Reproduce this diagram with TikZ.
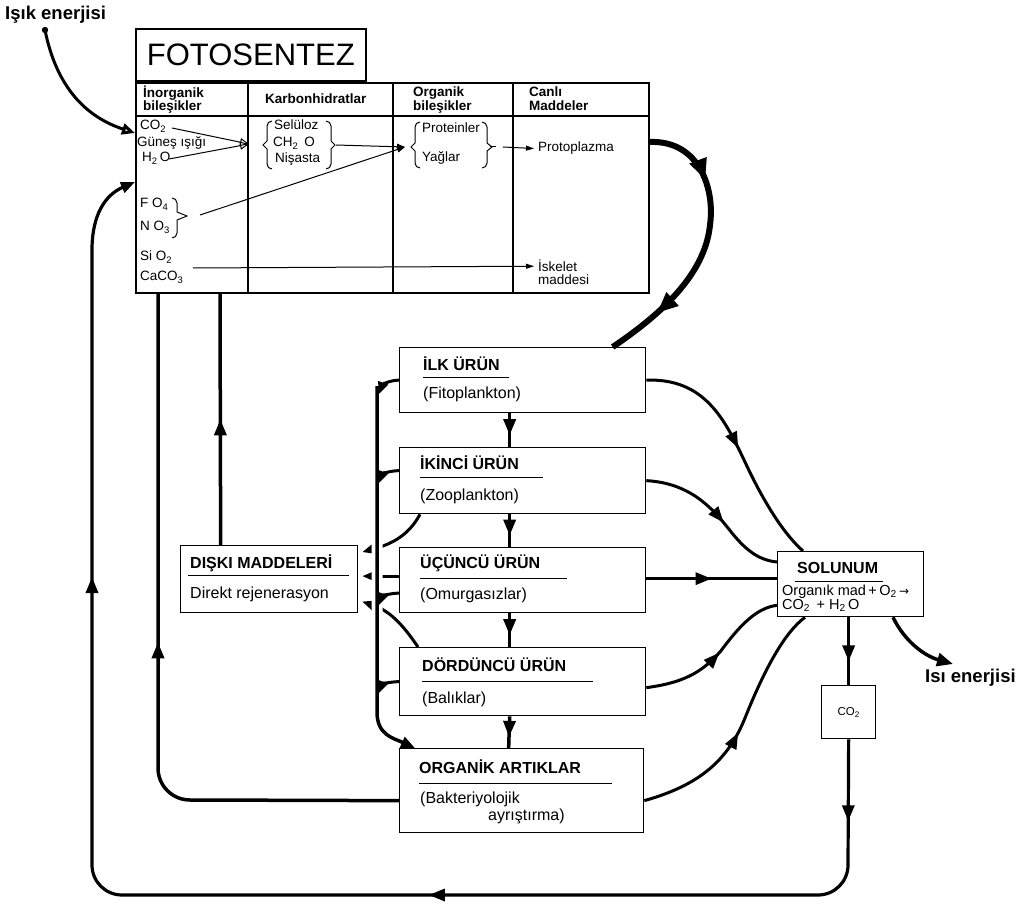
\documentclass[tikz,border=0pt]{standalone}
\usepackage{fontspec}
\setmainfont{Liberation Sans}
\newfontfamily\dejavu{DejaVu Sans}
\usetikzlibrary{arrows.meta,decorations.markings,calc}
\begin{document}
\begin{tikzpicture}[x=1pt,y=-1pt,
  box/.style={draw,line width=1.3pt,inner sep=0pt,anchor=north west},
  tline/.style={line width=1.1pt},
  lbl/.style={anchor=base west,inner sep=0pt},
  ttl/.style={lbl,font=\fontsize{16}{18}\selectfont\bfseries},
  sub/.style={lbl,font=\fontsize{16}{18}\selectfont},
  hdr/.style={lbl,font=\fontsize{13.5}{15}\selectfont\bfseries},
  cell/.style={lbl,font=\fontsize{13.5}{15}\selectfont},
  big/.style={lbl,font=\fontsize{18.5}{20}\selectfont\bfseries},
  conn/.style={line width=3pt},
  thin/.style={line width=1pt},
  uline/.style={line width=1pt},
  endtip/.style={-{Triangle[length=14pt,width=11pt]}},
  smalltip/.style={-{Triangle[length=12pt,width=10pt]}},
  arrowat/.style={postaction={decorate,decoration={markings,mark=at position #1 with {\arrow{Triangle[length=16pt,width=12pt]}}}}},
  bigarrowat/.style={postaction={decorate,decoration={markings,mark=at position #1 with {\arrow{Triangle[length=21pt,width=17pt]}}}}},
]
\useasboundingbox (0,0) rectangle (1025,909);

% ---------- FOTOSENTEZ table ----------
\node[box,line width=1.6pt,minimum width=513pt,minimum height=210pt] (table) at (135,82) {};
\node[draw,line width=1.6pt,inner sep=0pt,anchor=south west,minimum width=230pt,minimum height=52pt,
      font=\fontsize{31}{33}\selectfont] (title) at (135,82) {FOTOSENTEZ};
\draw[tline] (135,116) -- (648,116);
\draw[tline] (248,82) -- (248,292);
\draw[tline] (393,82) -- (393,292);
\draw[tline] (513,82) -- (513,292);

\node[hdr] (h1a) at (143,98) {İnorganik};
\node[hdr] (h1b) at (143,111) {bileşikler};
\node[hdr] (h2) at (265,104) {Karbonhidratlar};
\node[hdr] (h3a) at (413,97) {Organik};
\node[hdr] (h3b) at (413,111) {bileşikler};
\node[hdr] (h4a) at (529,97) {Canlı};
\node[hdr] (h4b) at (529,111) {Maddeler};

\node[cell] (co2) at (140,130) {CO\textsubscript{2}};
\node[cell] (gunes) at (137,147) {Güneş ışığı};
\node[cell] (h2o) at (142,162) {H\textsubscript{2}\,O};
\node[cell] (fo4) at (140,208) {F O\textsubscript{4}};
\node[cell] (no3) at (140,231) {N O\textsubscript{3}};
\node[cell] (sio2) at (140,261) {Si O\textsubscript{2}};
\node[cell] (caco3) at (140,281) {CaCO\textsubscript{3}};

\node[cell] (selu) at (274,130) {Selüloz};
\node[cell] (ch2o) at (273,147) {CH\textsubscript{2}\, O};
\node[cell] (nisasta) at (275,163) {Nişasta};

\node[cell] (prot) at (422,133) {Proteinler};
\node[cell] (yag) at (422,162) {Yağlar};

\node[cell] (proto) at (538,152) {Protoplazma};
\node[cell] (iskelet) at (538,272) {İskelet};
\node[cell] (maddesi) at (538,285) {maddesi};

% braces
\draw[thin] (272,121) to[out=180,in=90] (267,126) -- (267,141) -- (263,145) -- (267,149) -- (267,164) to[out=-90,in=180] (272,169);
\draw[thin] (326,121) to[out=0,in=90] (331,126) -- (331,141) -- (335,145) -- (331,149) -- (331,164) to[out=-90,in=0] (326,169);
\draw[thin] (420,122) to[out=180,in=90] (415,127) -- (415,143) -- (411,147) -- (415,151) -- (415,163) to[out=-90,in=180] (420,168);
\draw[thin] (482,122) to[out=0,in=90] (487,127) -- (487,143) -- (492,147) -- (487,151) -- (487,163) to[out=-90,in=0] (482,168);
\draw[thin] (172,198) to[out=0,in=90] (177,203) -- (177,212) -- (187,216) -- (177,220) -- (177,233) to[out=-90,in=0] (172,238);

\coordinate (karbin) at (249,144);
\coordinate (orgin) at (405,147);
\draw[thin,-{Triangle[open,length=9pt,width=8pt]}] (172,128) -- (karbin);
\draw[thin,-{Triangle[open,length=9pt,width=8pt]}] (169,159) -- (karbin);
\draw[thin,-{Triangle[length=8pt,width=6pt]}] (336,145) -- (orgin);
\draw[thin,-{Triangle[length=8pt,width=6pt]}] (200,215) -- (orgin);
\draw[thin] (490,147) -- (496,147);
\draw[thin,-{Triangle[length=8pt,width=5pt]}] (503,147) -- ([xshift=-4pt]proto.west);
\draw[thin,-{Triangle[length=8pt,width=5pt]}] (193,268) -- ([xshift=-4pt]iskelet.west);

% ---------- Işık enerjisi ----------
\node[big] (isik) at (5,20) {Işık enerjisi};
\coordinate (isikdot) at (45,30);
\fill (isikdot) circle (3.2);
\draw[conn,-{Triangle[open,length=13pt,width=11pt]}] (isikdot) .. controls (55,80) and (80,115) .. ([yshift=-51pt]table.north west);

% ---------- trophic boxes ----------
\node[box,minimum width=246pt,minimum height=65pt] (ilk) at (399,347) {};
\node[box,minimum width=246pt,minimum height=66pt] (ikinci) at (399,447) {};
\node[box,minimum width=246pt,minimum height=65pt] (ucuncu) at (399,547) {};
\node[box,minimum width=246pt,minimum height=68pt] (dorduncu) at (399,647) {};
\node[box,minimum width=244pt,minimum height=84pt] (organik) at (399,748) {};
\node[box,minimum width=177pt,minimum height=67pt] (diski) at (180,545) {};
\node[box,minimum width=146pt,minimum height=65pt] (solunum) at (777,551) {};
\node[box,minimum width=54pt,minimum height=53pt] (co2box) at (821,685) {};

\node[ttl] (ilkT) at (423,370) {İLK ÜRÜN};
\draw[uline] (423,377) -- (509,377);
\node[sub] (ilkS) at (423,398) {(Fitoplankton)};

\node[ttl] (ikiT) at (420,469) {İKİNCİ ÜRÜN};
\draw[uline] (420,477) -- (543,477);
\node[sub] (ikiS) at (420,500) {(Zooplankton)};

\node[ttl] (ucT) at (420,568) {ÜÇÜNCÜ ÜRÜN};
\draw[uline] (420,578) -- (567,578);
\node[sub] (ucS) at (420,599) {(Omurgasızlar)};

\node[ttl] (dorT) at (422,671) {DÖRDÜNCÜ ÜRÜN};
\draw[uline] (422,681) -- (593,681);
\node[sub] (dorS) at (422,703) {(Balıklar)};

\node[ttl] (orgT) at (419,773) {ORGANİK ARTIKLAR};
\draw[uline] (419,783) -- (612,783);
\node[sub] (orgS1) at (420,803) {(Bakteriyolojik};
\node[sub] (orgS2) at (488,820) {ayrıştırma)};

\node[ttl] (disT) at (190,568) {DIŞKI MADDELERİ};
\draw[uline] (188,575) -- (349,575);
\node[sub] (disS) at (190,598) {Direkt rejenerasyon};

\node[ttl] (solT) at (797,573) {SOLUNUM};
\draw[uline] (795,581) -- (883,581);
\node[lbl,font=\fontsize{14.5}{16}\selectfont] (solA) at (782,595) {Organık mad\,+\,O\textsubscript{2}\,{\dejavu\fontsize{12}{13}\selectfont →}};
\node[lbl,font=\fontsize{14.5}{16}\selectfont] (solB) at (782,609) {CO\textsubscript{2}\, + H\textsubscript{2}\,O};

\node[lbl,font=\fontsize{11.5}{12}\selectfont,anchor=center] (co2t) at (co2box.center) {CO\textsubscript{2}};

\node[big] (isi) at (925,682) {Isı enerjisi};

% ---------- connectors ----------
% table -> ILK (thick)
\draw[line width=6pt,bigarrowat=0.26,bigarrowat=0.8] ([yshift=-60pt]table.north east) .. controls (700,140) and (715,190) .. (710,225) .. controls (705,275) and (660,315) .. ([xshift=90pt]ilk.north);

% trophic chain
\draw[conn,line width=3.5pt,arrowat=0.65] ([xshift=-13pt]ilk.south) -- ([xshift=-13pt]ikinci.north);
\draw[conn,line width=3.5pt,arrowat=0.65] ([xshift=-13pt]ikinci.south) -- ([xshift=-13pt]ucuncu.north);
\draw[conn,line width=3.5pt,arrowat=0.65] ([xshift=-13pt]ucuncu.south) -- ([xshift=-13pt]dorduncu.north);
\draw[conn,line width=3.5pt,arrowat=0.65] ([xshift=-13pt]dorduncu.south) -- ([xshift=-13pt]organik.north);

% to DIŞKI
\draw[conn,endtip,shorten >=4pt] ([xshift=21pt]ikinci.south west) .. controls (410,533) and (395,543) .. ([yshift=26pt]diski.east);
\draw[conn,endtip,shorten >=4pt] ([yshift=4pt]ucuncu.west) -- ([yshift=4pt]ucuncu.west -| diski.east);
\draw[conn,endtip,shorten >=4pt] ([xshift=19pt]dorduncu.north west) .. controls (405,628) and (392,612) .. ([yshift=-21pt]diski.east);

% collector
\coordinate (colltop) at (377,386);
\draw[line width=3.5pt,preaction={draw=white,line width=11pt,arrows=-,shorten >=30pt},endtip]
  (colltop) -- (377,712) .. controls (377,735) and (393,738) .. ([xshift=16pt]organik.north west);
\coordinate (c1) at (379,394);
\coordinate (c2) at (379,483);
\coordinate (c3) at (379,605);
\coordinate (c4) at (379,693);
\draw[conn,smalltip] (ilk.west) to[out=180,in=70] (c1);
\draw[conn,smalltip] ([yshift=10pt]ikinci.west) to[out=180,in=70] (c2);
\draw[conn,smalltip] ([yshift=-13pt]ucuncu.west) to[out=180,in=70] (c3);
\draw[conn,smalltip] (dorduncu.west) to[out=180,in=70] (c4);

% DIŞKI -> table
\draw[conn,line width=3.5pt,arrowat=0.5] ([xshift=-48.5pt]diski.north) -- ([xshift=85pt]table.south west);
% ORGANİK -> table
\draw[conn,line width=3.5pt,arrowat=385pt] ([yshift=-10pt]organik.west) -- (190,800) to[out=180,in=-90] (158,768) -- ([xshift=23pt]table.south west);

% to SOLUNUM
\draw[conn,arrowat=0.5] (ilk.east) .. controls (705,378) and (725,420) .. (745,462) .. controls (765,505) and (785,535) .. ([xshift=26pt]solunum.north west);
\draw[conn,arrowat=0.57] (ikinci.east) .. controls (690,483) and (712,508) .. (728,528) .. controls (745,550) and (758,560) .. ([yshift=-11pt]solunum.north west);
\draw[conn,arrowat=0.5] ([yshift=1.5pt]ucuncu.east) -- ([yshift=1.5pt]ucuncu.east -| solunum.west);
\draw[conn,arrowat=0.52] ([yshift=-6pt]dorduncu.east) .. controls (690,682) and (705,668) .. (720,652) .. controls (738,628) and (755,608) .. ([yshift=12pt]solunum.south west);
\draw[conn,arrowat=0.47] ([yshift=-10pt]organik.east) .. controls (700,785) and (728,760) .. (745,718) .. controls (765,668) and (785,632) .. ([xshift=28pt]solunum.south west);

% SOLUNUM -> CO2, heat
\draw[conn,line width=3.5pt,arrowat=0.65] (solunum.south -| co2box.north) -- (co2box.north);
\coordinate (isitip) at (953,664);
\draw[conn,line width=3.5pt,-{Triangle[length=16pt,width=13pt]}] ([xshift=116pt]solunum.south west) .. controls (905,642) and (925,656) .. (isitip);

% outer loop CO2 -> table
\draw[conn,line width=3.2pt,arrowat=82pt,arrowat=562pt,arrowat=1204pt,endtip]
  (co2box.south) -- (848,865) to[out=-90,in=0] (818,895) -- (122,895) to[out=180,in=-90] (92,865) -- (92,250)
  .. controls (92,215) and (105,195) .. ([yshift=-100pt]table.north west);
\end{tikzpicture}
\end{document}
